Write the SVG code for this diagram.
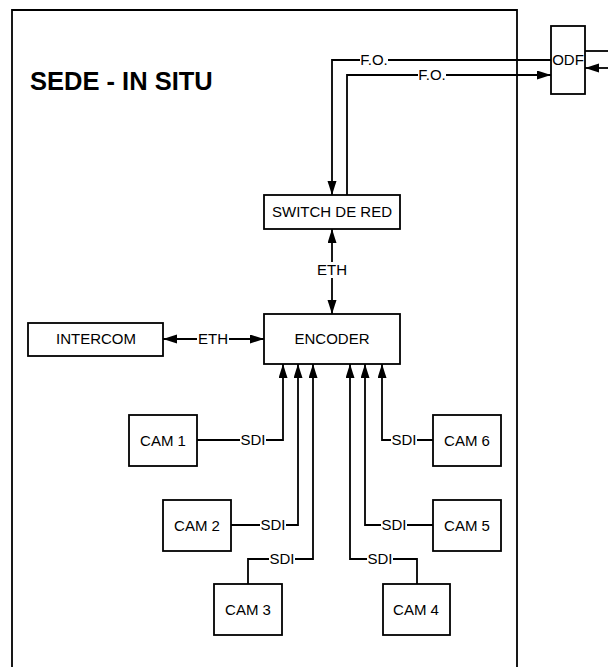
<svg xmlns="http://www.w3.org/2000/svg" width="608" height="667" viewBox="0 0 608 667">
<style>
.box{fill:#fff;stroke:#000;stroke-width:1.8}
.t{font-family:"Liberation Sans",Arial,sans-serif;font-size:15px;fill:#000;text-anchor:middle}
.c{fill:none;stroke:#000;stroke-width:1.8}
.bg{fill:#fff;stroke:none}
</style>
<defs>
<marker id="ah" markerUnits="userSpaceOnUse" markerWidth="15" markerHeight="10" refX="14" refY="4.5" orient="auto-start-reverse">
<path d="M0,0 L14,4.5 L0,9 z" fill="#000"/>
</marker>
</defs>
<rect width="608" height="667" fill="#fff"/>
<g id="sede">
<path d="M12,670 V10 H517 V670" class="c"/>
<text x="30" y="90" style="font-family:'Liberation Sans',Arial,sans-serif;font-size:25.5px;font-weight:bold">SEDE - IN SITU</text>
</g>
<g id="connectors">
<path class="c" d="M551,60 H332 V195" marker-end="url(#ah)"/>
<path class="c" d="M347,195 V75 H551" marker-end="url(#ah)"/>
<path class="c" d="M585,51 H608"/>
<path class="c" d="M608,68 H585" marker-end="url(#ah)"/>
<path class="c" d="M332,229 V314" marker-start="url(#ah)" marker-end="url(#ah)"/>
<path class="c" d="M163,339 H264" marker-start="url(#ah)" marker-end="url(#ah)"/>
<path class="c" d="M197,440 H283 V364" marker-end="url(#ah)"/>
<path class="c" d="M231,525 H298 V364" marker-end="url(#ah)"/>
<path class="c" d="M248,584 V559 H313 V364" marker-end="url(#ah)"/>
<path class="c" d="M433,440 H382 V364" marker-end="url(#ah)"/>
<path class="c" d="M433,525 H365 V364" marker-end="url(#ah)"/>
<path class="c" d="M417,584 V559 H350 V364" marker-end="url(#ah)"/>
<rect class="bg" x="360" y="52" width="28" height="16"/><text class="t" x="374" y="65">F.O.</text>
<rect class="bg" x="418" y="67" width="28" height="16"/><text class="t" x="432" y="80">F.O.</text>
<rect class="bg" x="316" y="262" width="32" height="16"/><text class="t" x="332" y="275">ETH</text>
<rect class="bg" x="197" y="331" width="32" height="16"/><text class="t" x="213" y="344">ETH</text>
<rect class="bg" x="240" y="432" width="26" height="16"/><text class="t" x="253" y="445">SDI</text>
<rect class="bg" x="260" y="517" width="26" height="16"/><text class="t" x="273" y="530">SDI</text>
<rect class="bg" x="269" y="551" width="26" height="16"/><text class="t" x="282" y="564">SDI</text>
<rect class="bg" x="391" y="432" width="26" height="16"/><text class="t" x="404" y="445">SDI</text>
<rect class="bg" x="381" y="517" width="26" height="16"/><text class="t" x="394" y="530">SDI</text>
<rect class="bg" x="367" y="551" width="26" height="16"/><text class="t" x="380" y="564">SDI</text>
</g>
<g id="odf"><rect class="box" x="551" y="26" width="34" height="68"/><text class="t" x="568" y="65">ODF</text></g>
<g id="switch"><rect class="box" x="264" y="195" width="136" height="34"/><text class="t" x="332" y="217">SWITCH DE RED</text></g>
<g id="encoder"><rect class="box" x="264" y="314" width="136" height="50"/><text class="t" x="332" y="344">ENCODER</text></g>
<g id="intercom"><rect class="box" x="28" y="323" width="135" height="33"/><text class="t" x="96" y="344">INTERCOM</text></g>
<g id="cam1"><rect class="box" x="129" y="415" width="68" height="51"/><text class="t" x="163" y="446">CAM 1</text></g>
<g id="cam2"><rect class="box" x="163" y="500" width="68" height="51"/><text class="t" x="197" y="531">CAM 2</text></g>
<g id="cam3"><rect class="box" x="214" y="584" width="68" height="51"/><text class="t" x="248" y="615">CAM 3</text></g>
<g id="cam4"><rect class="box" x="383" y="584" width="67" height="51"/><text class="t" x="416" y="615">CAM 4</text></g>
<g id="cam5"><rect class="box" x="433" y="500" width="68" height="51"/><text class="t" x="467" y="531">CAM 5</text></g>
<g id="cam6"><rect class="box" x="433" y="415" width="68" height="51"/><text class="t" x="467" y="446">CAM 6</text></g>
</svg>
